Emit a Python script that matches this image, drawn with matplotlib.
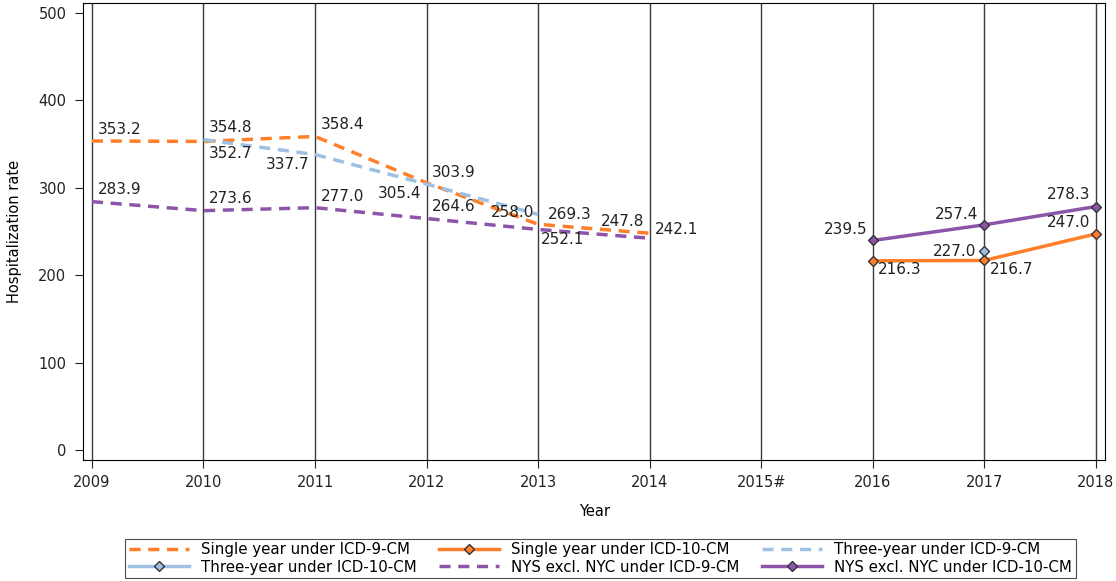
import numpy as np
import matplotlib.pyplot as plt

years = ['2009', '2010', '2011', '2012', '2013', '2014', '2015#', '2016', '2017', '2018']
nan = np.nan

single_icd9 = [353.2, 352.7, 358.4, 305.4, 258.0, 247.8, nan, nan, nan, nan]
single_icd10 = [nan, nan, nan, nan, nan, nan, nan, 216.3, 216.7, 247.0]
three_icd9 = [nan, 354.8, 337.7, 303.9, 269.3, nan, nan, nan, nan, nan]
three_icd10 = [nan, nan, nan, nan, nan, nan, nan, nan, 227.0, nan]
nys_icd9 = [283.9, 273.6, 277.0, 264.6, 252.1, 242.1, nan, nan, nan, nan]
nys_icd10 = [nan, nan, nan, nan, nan, nan, nan, 239.5, 257.4, 278.3]

orange = '#ff7f2a'
blue = '#9ec0e2'
purple = '#8c55aa'

# label offsets in points (dx, dy, ha, va) - just for placement
off_single9 = {0: (4, 3, 'left', 'bottom'), 1: (4, -3, 'left', 'top'), 2: (4, 3, 'left', 'bottom'),
               3: (-4, -2, 'right', 'top'), 4: (-3, 3, 'right', 'bottom'), 5: (-4, 3, 'right', 'bottom')}
off_three9 = {1: (4, 3, 'left', 'bottom'), 2: (-4, -2, 'right', 'top'),
              3: (4, 3, 'left', 'bottom'), 4: (7, 0, 'left', 'center')}
off_nys9 = {0: (4, 3, 'left', 'bottom'), 1: (4, 3, 'left', 'bottom'), 2: (4, 3, 'left', 'bottom'),
            3: (4, 3, 'left', 'bottom'), 4: (2, -2, 'left', 'top'), 5: (4, 6, 'left', 'center')}
off_single10 = {7: (4, -1, 'left', 'top'), 8: (4, -1, 'left', 'top'), 9: (-4, 3, 'right', 'bottom')}
off_three10 = {8: (-6, 0, 'right', 'center')}
off_nys10 = {7: (-4, 8, 'right', 'center'), 8: (-4, 2, 'right', 'bottom'), 9: (-4, 3, 'right', 'bottom')}

fig = plt.figure(figsize=(11.16, 5.81), dpi=100)
ax = fig.add_axes([0.0744, 0.208, 0.9160, 0.787])
x = np.arange(len(years))

for xi in x:
    ax.axvline(xi, color='#3a3a3a', lw=1.0, zorder=0)

dash = (0, (3.2, 2.2))
ax.plot(x, single_icd9, color=orange, lw=2.5, ls=dash, label='Single year under ICD-9-CM')
ax.plot(x, single_icd10, color=orange, lw=2.5, marker='D', ms=5, mfc=orange, mec='#333333',
        label='Single year under ICD-10-CM')
ax.plot(x, three_icd9, color=blue, lw=2.5, ls=dash, label='Three-year under ICD-9-CM')
ax.plot(x, three_icd10, color=blue, lw=2.5, marker='D', ms=5, mfc=blue, mec='#333333',
        label='Three-year under ICD-10-CM')
ax.plot(x, nys_icd9, color=purple, lw=2.5, ls=dash, label='NYS excl. NYC under ICD-9-CM')
ax.plot(x, nys_icd10, color=purple, lw=2.5, marker='D', ms=5, mfc=purple, mec='#333333',
        label='NYS excl. NYC under ICD-10-CM')


def put_labels(vals, offs):
    for i, o in offs.items():
        v = vals[i]
        ax.annotate(f'{v:.1f}', (i, v), xytext=(o[0], o[1]), textcoords='offset points',
                    ha=o[2], va=o[3], fontsize=11, color='#222222')


put_labels(single_icd9, off_single9)
put_labels(three_icd9, off_three9)
put_labels(nys_icd9, off_nys9)
put_labels(single_icd10, off_single10)
put_labels(three_icd10, off_three10)
put_labels(nys_icd10, off_nys10)

ax.set_xlim(-0.08, 9.085)
ax.set_ylim(-11.5, 511)
ax.set_xticks(x)
ax.set_xticklabels(years)
ax.set_yticks(range(0, 501, 100))
ax.tick_params(labelsize=10.5, colors='#222222', length=6, pad=5)
ax.tick_params(axis='y', pad=6)
ax.set_xlabel('Year', fontsize=10.5, labelpad=10)
ax.set_ylabel('Hospitalization rate', fontsize=10.5, labelpad=12)

# reorder so legend fills row by row like the original
h, l = ax.get_legend_handles_labels()
order = [0, 3, 1, 4, 2, 5]
leg = ax.legend([h[i] for i in order], [l[i] for i in order],
                loc='upper center', bbox_to_anchor=(0.506, -0.155), ncol=3, frameon=True,
                fancybox=False, edgecolor='#222222', handlelength=4.0, handletextpad=0.8,
                columnspacing=1.5, borderpad=0.25, labelspacing=0.15, fontsize=10.8)
leg.get_frame().set_linewidth(0.8)

fig.savefig('out.png', dpi=100)
